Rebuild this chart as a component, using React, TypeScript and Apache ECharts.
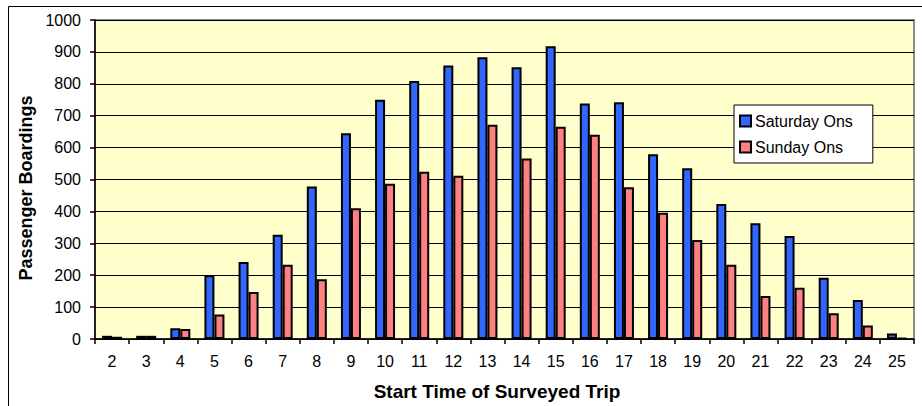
import React, { useEffect, useRef } from "react";
import * as echarts from "echarts";

const categories = ["2","3","4","5","6","7","8","9","10","11","12","13","14","15","16","17","18","19","20","21","22","23","24","25"];
const saturdayOns = [10, 10, 34, 200, 241, 327, 478, 645, 750, 809, 857, 883, 852, 918, 738, 742, 579, 535, 423, 363, 323, 192, 122, 17];
const sundayOns = [7, 10, 31, 77, 147, 233, 187, 410, 487, 524, 512, 672, 566, 665, 640, 476, 396, 310, 233, 135, 161, 81, 42, 3];
const yTicks = { min: 0, max: 1000, interval: 100 };

const FONT = "Liberation Sans, Arial, sans-serif";

export default function App() {
  const ref = useRef<HTMLDivElement>(null);
  useEffect(() => {
    if (!ref.current) return;
    const chart = echarts.init(ref.current, null, { renderer: "svg" });
    chart.setOption({
      animation: false,
      backgroundColor: "#ffffff",
      textStyle: { fontFamily: FONT, color: "#000" },
      grid: {
        left: 95,
        top: 20,
        right: 8,
        bottom: 67,
        show: true,
        backgroundColor: "#FFFFCC",
        borderColor: "#8c8c8c",
        borderWidth: 2,
      },
      legend: {
        orient: "vertical",
        left: 734,
        top: 105,
        width: 128,
        itemWidth: 11,
        itemHeight: 11,
        itemGap: 10,
        padding: [8, 20, 8, 5],
        backgroundColor: "#ffffff",
        borderColor: "#000",
        borderWidth: 1,
        borderRadius: 0,
        icon: "rect",
        textStyle: { fontFamily: FONT, fontSize: 16, color: "#000", padding: [0, 0, 0, -1] },
        data: ["Saturday Ons", "Sunday Ons"],
      },
      xAxis: {
        type: "category",
        data: categories,
        axisLine: { lineStyle: { color: "#000", width: 1.5 } },
        axisTick: { show: true, length: 5, lineStyle: { color: "#000", width: 1.5 } },
        axisLabel: { fontFamily: FONT, fontSize: 16, color: "#000", margin: 14 },
        splitLine: { show: false },
      },
      yAxis: {
        type: "value",
        min: yTicks.min,
        max: yTicks.max,
        interval: yTicks.interval,
        axisLine: { show: true, lineStyle: { color: "#000", width: 1.5 } },
        axisTick: { show: true, length: 5, lineStyle: { color: "#000", width: 1.5 } },
        axisLabel: {
          fontFamily: FONT,
          fontSize: 16,
          color: "#000",
          margin: 14,
          formatter: (v: number) => String(v),
        },
        splitLine: { show: true, lineStyle: { color: "#000", width: 1 } },
      },
      series: [
        {
          name: "Saturday Ons",
          type: "bar",
          data: saturdayOns,
          barWidth: 10,
          barGap: "0%",
          itemStyle: { color: "#3366FF", borderColor: "#000", borderWidth: 2 },
        },
        {
          name: "Sunday Ons",
          type: "bar",
          data: sundayOns,
          barWidth: 10,
          barGap: "0%",
          itemStyle: { color: "#FF8080", borderColor: "#000", borderWidth: 2 },
        },
      ],
      graphic: [
        {
          type: "rect",
          z: 100,
          silent: true,
          shape: { x: 8.5, y: 6.5, width: 1000, height: 1000 },
          style: { fill: "none", stroke: "#000", lineWidth: 1 },
        },
        {
          type: "text",
          x: 497,
          y: 391,
          style: {
            text: "Start Time of Surveyed Trip",
            font: "bold 19px " + FONT,
            fill: "#000",
            align: "center",
            verticalAlign: "middle",
          },
        },
        {
          type: "text",
          x: 26,
          y: 188,
          rotation: Math.PI / 2,
          style: {
            text: "Passenger Boardings",
            font: "bold 18px " + FONT,
            fill: "#000",
            align: "center",
            verticalAlign: "middle",
          },
        },
      ],
    });
    return () => chart.dispose();
  }, []);
  return (
    <div
      ref={ref}
      style={{ position: "fixed", left: 0, top: 0, width: 922, height: 406 }}
    />
  );
}
